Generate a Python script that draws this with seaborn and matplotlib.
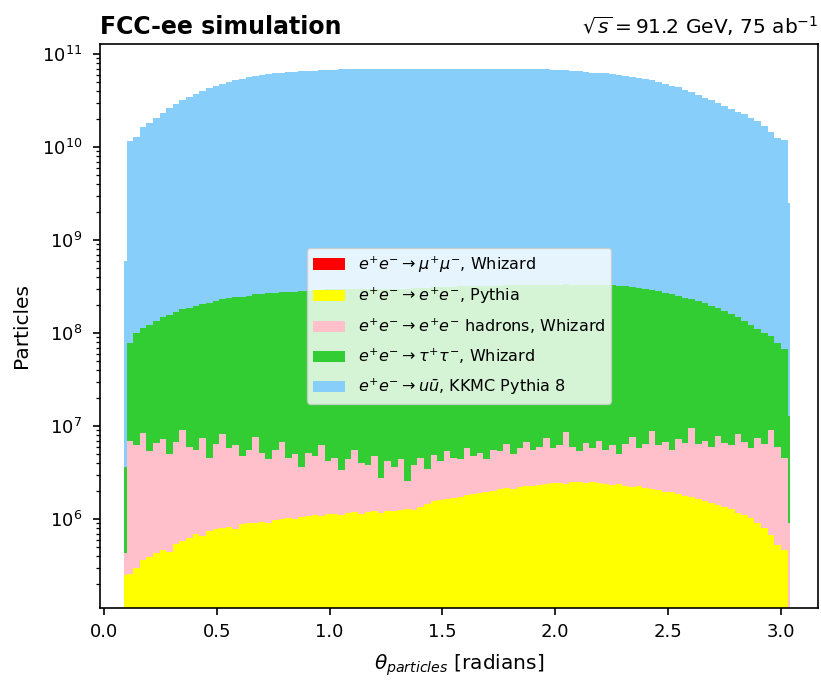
import numpy as np
import pandas as pd
import matplotlib
matplotlib.use("Agg")
import matplotlib.pyplot as plt
import seaborn as sns
from matplotlib.patches import Patch

# ---- binning (theta in radians): one narrow bin at each end + 100 regular bins ----
theta_min, theta_lo, theta_hi, theta_max, n_bins = 0.089, 0.100, 3.031, 3.042, 100

# ---- per-bin particle counts (first/last entry = narrow end bins) ----
# e+e- -> u ubar, KKMC Pythia 8   (units of 1e10)
uu_e10 = [0.06,
          1.17, 1.26, 1.62, 1.82, 2.04, 2.34, 2.63, 2.88, 3.16, 3.47,
          3.72, 3.98, 4.27, 4.57, 4.79, 5.01, 5.19, 5.37, 5.62, 5.75,
          5.89, 6.03, 6.17, 6.31, 6.38, 6.46, 6.53, 6.61, 6.61, 6.68,
          6.76, 6.80, 6.85, 6.85, 6.88, 6.90, 6.90, 6.92, 6.92, 6.92,
          6.95, 6.95, 6.95, 6.95, 6.95, 6.95, 6.95, 6.95, 6.95, 6.95,
          6.95, 6.95, 6.92, 6.92, 6.92, 6.90, 6.90, 6.90, 6.88, 6.88,
          6.86, 6.86, 6.85, 6.84, 6.76, 6.76, 6.68, 6.61, 6.53, 6.46,
          6.31, 6.24, 6.17, 6.03, 5.89, 5.75, 5.62, 5.50, 5.37, 5.19,
          5.01, 4.79, 4.57, 4.37, 4.07, 3.89, 3.63, 3.39, 3.16, 2.95,
          2.75, 2.57, 2.40, 2.24, 2.04, 1.91, 1.66, 1.45, 1.26, 1.20,
          0.25]

# e+e- -> tau+ tau-, Whizard   (units of 1e8)
tau_e8 = [0.032,
          0.708, 0.933, 1.047, 1.175, 1.288, 1.413, 1.514, 1.622, 1.718, 1.820,
          1.905, 1.995, 2.089, 2.163, 2.239, 2.317, 2.371, 2.427, 2.483, 2.541,
          2.570, 2.630, 2.661, 2.692, 2.723, 2.754, 2.786, 2.818, 2.851, 2.884,
          2.917, 2.931, 2.938, 2.944, 2.951, 2.951, 2.951, 2.951, 2.951, 2.951,
          2.951, 2.965, 2.985, 3.006, 3.027, 3.048, 3.069, 3.090, 3.105, 3.119,
          3.133, 3.148, 3.162, 3.170, 3.177, 3.184, 3.199, 3.206, 3.214, 3.221,
          3.228, 3.236, 3.243, 3.251, 3.258, 3.258, 3.258, 3.251, 3.243, 3.236,
          3.228, 3.221, 3.214, 3.206, 3.199, 3.162, 3.090, 3.020, 2.951, 2.851,
          2.754, 2.661, 2.570, 2.455, 2.344, 2.239, 2.138, 2.042, 1.905, 1.778,
          1.660, 1.549, 1.413, 1.288, 1.175, 1.047, 0.933, 0.832, 0.724, 0.631,
          0.12]

# e+e- -> e+e- hadrons, Whizard   (units of 1e6)
hadrons_e6 = [0.18,
              6.74, 5.90, 8.14, 5.01, 6.17, 6.73, 4.56, 6.26, 8.41, 5.37,
              4.90, 6.84, 3.85, 5.62, 7.39, 4.97, 5.41, 3.92, 4.70, 6.68,
              4.26, 3.50, 4.52, 5.80, 3.57, 3.99, 2.54, 4.11, 3.70, 5.13,
              3.07, 3.45, 2.28, 3.23, 4.41, 2.86, 2.60, 3.58, 1.62, 2.97,
              2.39, 3.15, 1.32, 2.56, 3.25, 2.05, 3.35, 2.60, 3.75, 2.90,
              2.65, 4.00, 2.94, 3.30, 2.45, 3.57, 3.30, 4.25, 2.88, 3.60,
              4.55, 3.30, 3.66, 5.02, 3.38, 3.75, 6.20, 3.52, 2.88, 4.14,
              3.30, 4.55, 3.20, 3.84, 2.62, 4.10, 5.36, 3.54, 4.22, 6.68,
              4.15, 4.82, 3.65, 5.34, 4.82, 7.88, 4.76, 5.42, 4.50, 6.38,
              5.26, 4.92, 7.02, 5.70, 4.78, 6.48, 5.60, 8.32, 5.47, 4.13,
              0.91]

# e+e- -> e+e-, Pythia   (units of 1e5)
ee_e5 = [2.5,
         2.6, 3.0, 3.6, 3.9, 4.3, 4.7, 4.4, 5.4, 5.9, 6.3,
         7.0, 6.6, 7.5, 7.8, 8.1, 8.3, 7.9, 8.8, 9.0, 9.2,
         9.4, 9.0, 9.8, 10.0, 10.3, 10.1, 10.6, 10.9, 11.0, 10.7,
         11.3, 11.5, 11.2, 11.7, 11.9, 11.4, 12.0, 12.2, 11.8, 12.3,
         12.1, 12.5, 12.8, 12.4, 13.5, 14.5, 15.5, 16.0, 16.5, 17.0,
         17.5, 18.0, 18.6, 19.0, 19.5, 20.3, 21.0, 21.5, 21.2, 22.0,
         22.5, 23.0, 23.4, 23.8, 24.2, 24.5, 24.0, 24.8, 25.2, 24.6,
         25.0, 24.5, 24.0, 23.6, 23.8, 23.0, 22.4, 22.6, 21.8, 21.2,
         20.5, 19.8, 19.5, 18.6, 17.8, 17.2, 16.4, 15.8, 15.0, 14.2,
         13.4, 12.8, 11.8, 11.0, 10.2, 9.2, 8.0, 6.8, 5.3, 4.7,
         0.0]

labels = [r"$e^{+}e^{-} \rightarrow \mu^{+}\mu^{-}$, Whizard",
          r"$e^{+}e^{-} \rightarrow e^{+}e^{-}$, Pythia",
          r"$e^{+}e^{-} \rightarrow e^{+}e^{-}$ hadrons, Whizard",
          r"$e^{+}e^{-} \rightarrow \tau^{+}\tau^{-}$, Whizard",
          r"$e^{+}e^{-} \rightarrow u\bar{u}$, KKMC Pythia 8"]
colors = ["red", "yellow", "pink", "limegreen", "lightskyblue"]

# ---- build long table ----
edges = np.concatenate([[theta_min],
                        np.linspace(theta_lo, theta_hi, n_bins + 1),
                        [theta_max]])
centers = 0.5 * (edges[:-1] + edges[1:])
series = {
    labels[1]: np.array(ee_e5) * 1e5,
    labels[2]: np.array(hadrons_e6) * 1e6,
    labels[3]: np.array(tau_e8) * 1e8,
    labels[4]: np.array(uu_e10) * 1e10,
}
frames = [pd.DataFrame({"theta": centers, "n": v, "process": k})
          for k, v in series.items()]
df = pd.concat(frames, ignore_index=True)

plt.rcParams["axes.linewidth"] = 1.2

fig = plt.figure(figsize=(8.21, 6.80), dpi=100)
ax = fig.add_axes([0.1218, 0.1059, 0.9963 - 0.1218, 0.936 - 0.1059])
ax.set_yscale("log")

# seaborn stacks the last hue level at the bottom
hue_order = [labels[4], labels[3], labels[2], labels[1]]
palette = {labels[i]: colors[i] for i in range(5)}
sns.histplot(data=df, x="theta", weights="n", hue="process",
             hue_order=hue_order, palette=palette,
             bins=list(edges),
             multiple="stack", element="step", alpha=1, linewidth=0,
             legend=False, ax=ax)

ax.set_xlim(-0.018, 3.166)
ax.set_ylim(1.11e5, 1.30e11)

ax.set_xlabel(r"$\theta_{particles}$ [radians]", fontsize=14.5, labelpad=8)
ax.set_ylabel("Particles", fontsize=14.5, labelpad=8)
ax.tick_params(axis="both", which="major", labelsize=13, length=5, width=1.2)
ax.tick_params(axis="both", which="minor", length=3, width=0.9)
ax.tick_params(axis="x", pad=6)
ax.tick_params(axis="y", pad=8)

ax.set_title("FCC-ee simulation", loc="left", fontweight="bold", fontsize=17, pad=7)
ax.set_title(r"$\sqrt{s} = 91.2$ GeV, 75 ab$^{-1}$", loc="right", fontsize=14.5, pad=7)

handles = [Patch(facecolor=c, edgecolor="none") for c in colors]
ax.legend(handles, labels, loc="center", fontsize=11.5, labelspacing=0.68)

fig.savefig("out.png", dpi=100)
